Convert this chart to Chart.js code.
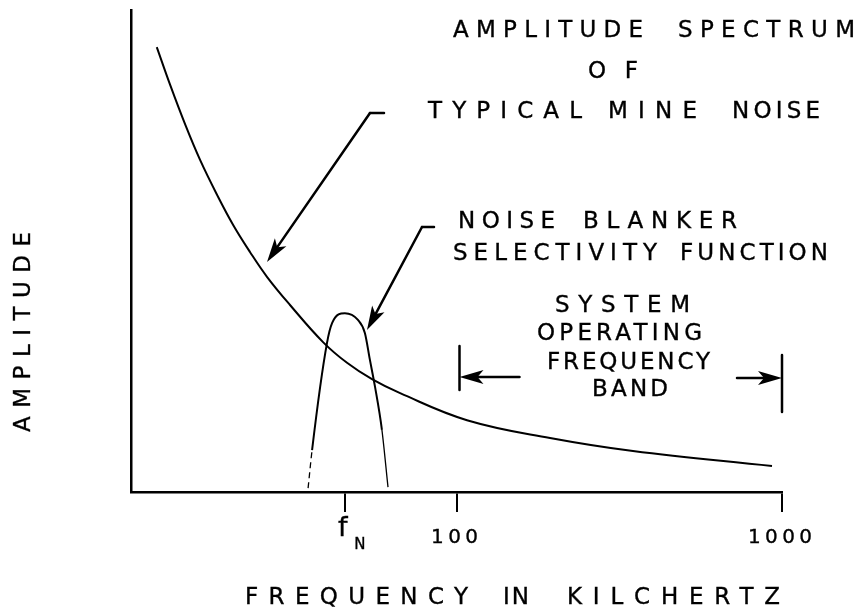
<!DOCTYPE html>
<html>
<head>
<meta charset="utf-8">
<title>Amplitude spectrum of typical mine noise</title>
<script src="https://cdn.jsdelivr.net/npm/chart.js@4.4.1/dist/chart.umd.min.js"></script>
<style>
  html, body { margin: 0; padding: 0; background: #fff; }
  #wrap { width: 861px; height: 613px; }
</style>
</head>
<body>
<div id="wrap"><canvas id="spectrum" width="861" height="613"></canvas></div>
<script>
// ===== values (frequency in kHz, amplitude in % of axis height) =====
const noiseFreq = [12.0, 13.2, 14.7, 16.3, 18.4, 20.6, 23.2, 26.2, 30.8, 38.9, 46.1, 55.0, 67.1, 107.7, 193.8, 348.5, 931.7];
const noiseAmp  = [92.3, 84.4, 76.1, 68.9, 61.6, 55.4, 49.8, 44.6, 38.8, 31.1, 26.8, 23.4, 20.5, 14.9, 11.2, 8.5, 5.4];

const blankerFreq = [35.0, 36.0, 40.0, 41.5, 45.4, 49.8, 52.3, 54.2, 56.2, 59.0, 61.6];
const blankerAmp  = [0.8, 8.7, 30.9, 35.1, 37.1, 35.7, 33.0, 27.4, 21.8, 12.9, 1.0];

const tickFreqs  = [45.4, 100, 1000];
const tickLabels = ['f_N', '100', '1000'];

const FONT = '"DejaVu Sans", sans-serif';

// hand lettered words: text, left, right, middle y
const words = [
  ['AMPLITUDE', 453, 643, 31], ['SPECTRUM', 678, 855, 31],
  ['OF', 588, 638, 72],
  ['TYPICAL', 428, 582, 112], ['MINE', 608, 697, 112], ['NOISE', 732, 820, 112],
  ['NOISE', 458, 555, 222], ['BLANKER', 583, 737, 222],
  ['SELECTIVITY', 453, 657, 254], ['FUNCTION', 680, 828, 254],
  ['SYSTEM', 555, 690, 306],
  ['OPERATING', 537, 702, 334],
  ['FREQUENCY', 547, 710, 363],
  ['BAND', 592, 668, 390],
  ['FREQUENCY', 245, 468, 598], ['IN', 503, 529, 598], ['KILCHERTZ', 567, 780, 598]
];

// draw a word stretched between x0 and x1
function spaced(ctx, text, x0, x1, y) {
  ctx.textAlign = 'left';
  if ('letterSpacing' in ctx) {
    ctx.letterSpacing = '0px';
    const w = ctx.measureText(text).width;
    const gap = text.length > 1 ? (x1 - x0 - w) / (text.length - 1) : 0;
    ctx.letterSpacing = gap + 'px';
    ctx.fillText(text, x0, y);
    ctx.strokeText(text, x0, y);
    ctx.letterSpacing = '0px';
  } else {
    const chars = [...text];
    const ws = chars.map(c => ctx.measureText(c).width);
    const gap = chars.length > 1 ? (x1 - x0 - ws.reduce((a, b) => a + b, 0)) / (chars.length - 1) : 0;
    let x = x0;
    chars.forEach((c, i) => { ctx.fillText(c, x, y); ctx.strokeText(c, x, y); x += ws[i] + gap; });
  }
}

function arrow(ctx, x0, y0, x1, y1, head, half) {
  const a = Math.atan2(y1 - y0, x1 - x0);
  ctx.beginPath();
  ctx.moveTo(x0, y0);
  ctx.lineTo(x1 - Math.cos(a) * head * 0.6, y1 - Math.sin(a) * head * 0.6);
  ctx.stroke();
  const bx = x1 - Math.cos(a) * head, by = y1 - Math.sin(a) * head;
  ctx.beginPath();
  ctx.moveTo(x1, y1);
  ctx.lineTo(bx - Math.sin(a) * half, by + Math.cos(a) * half);
  ctx.lineTo(x1 - Math.cos(a) * head * 0.75, y1 - Math.sin(a) * head * 0.75);
  ctx.lineTo(bx + Math.sin(a) * half, by - Math.cos(a) * half);
  ctx.closePath();
  ctx.fill();
}

const annotate = {
  id: 'annotate',
  beforeDraw(chart) {
    const c = chart.ctx;
    c.save();
    c.fillStyle = '#fff';
    c.fillRect(0, 0, chart.width, chart.height);
    c.restore();
  },
  afterDraw(chart) {
    const ctx = chart.ctx;
    const x = chart.scales.x;
    ctx.save();
    ctx.fillStyle = '#000';
    ctx.strokeStyle = '#000';
    ctx.textBaseline = 'middle';

    // lettering
    ctx.lineWidth = 0.35;
    ctx.font = '23px ' + FONT;
    words.forEach(w => spaced(ctx, w[0], w[1], w[2], w[3]));

    // vertical axis title
    ctx.save();
    ctx.translate(24, 332);
    ctx.rotate(-Math.PI / 2);
    spaced(ctx, 'AMPLITUDE', -100, 100, 0);
    ctx.restore();

    // tick labels
    tickFreqs.forEach((v, i) => {
      const px = x.getPixelForValue(v);
      const parts = tickLabels[i].split('_');
      if (parts.length > 1) {
        ctx.textAlign = 'center';
        ctx.font = '27px ' + FONT;
        ctx.fillText(parts[0], px - 2, 529);
        ctx.strokeText(parts[0], px - 2, 529);
        ctx.font = '15px ' + FONT;
        ctx.fillText(parts[1], px + 15, 545);
        ctx.strokeText(parts[1], px + 15, 545);
      } else {
        ctx.font = '20px ' + FONT;
        spaced(ctx, parts[0], px - parts[0].length * 8.5, px + parts[0].length * 8.5 - 4, 538);
      }
    });

    // leader arrows
    ctx.lineWidth = 2.5;
    ctx.lineCap = 'round';
    ctx.beginPath(); ctx.moveTo(370, 113); ctx.lineTo(384, 113); ctx.stroke();
    arrow(ctx, 370, 113, 267, 262, 24, 7);
    ctx.beginPath(); ctx.moveTo(422, 227); ctx.lineTo(434, 227); ctx.stroke();
    arrow(ctx, 422, 227, 367, 330, 24, 7);

    // operating band markers at 100 and 1000 kHz
    const bl = x.getPixelForValue(100) + 3;
    const br = x.getPixelForValue(1000);
    ctx.lineWidth = 2.5;
    ctx.beginPath(); ctx.moveTo(bl, 346); ctx.lineTo(bl, 390); ctx.stroke();
    ctx.beginPath(); ctx.moveTo(br, 355); ctx.lineTo(br, 412); ctx.stroke();
    arrow(ctx, bl + 60, 377, bl, 377, 24, 7);
    arrow(ctx, br - 45, 378, br, 378, 24, 7);
    ctx.restore();
  }
};

const lastSeg = blankerFreq.length - 2;

new Chart(document.getElementById('spectrum'), {
  type: 'line',
  data: {
    datasets: [{
      label: 'Typical mine noise',
      data: noiseFreq.map((f, i) => ({ x: f, y: noiseAmp[i] })),
      borderColor: '#000',
      borderWidth: 2,
      pointRadius: 0,
      tension: 0.4,
      fill: false
    }, {
      label: 'Noise blanker selectivity function',
      data: blankerFreq.map((f, i) => ({ x: f, y: blankerAmp[i] })),
      borderColor: '#000',
      borderWidth: 2,
      pointRadius: 0,
      cubicInterpolationMode: 'monotone',
      fill: false,
      segment: {
        borderDash: c => c.p0DataIndex === 0 ? [6, 4] : undefined,
        borderWidth: c => (c.p0DataIndex === 0 || c.p0DataIndex === lastSeg) ? 1.3 : undefined
      }
    }]
  },
  options: {
    responsive: false,
    animation: false,
    events: [],
    layout: { padding: { left: 123, top: 10, right: 79, bottom: 101 } },
    plugins: { legend: { display: false }, tooltip: { enabled: false } },
    scales: {
      x: {
        type: 'logarithmic',
        min: 10,
        max: 1000,
        afterBuildTicks: s => { s.ticks = tickFreqs.map(v => ({ value: v })); },
        ticks: { display: false },
        grid: { display: true, drawOnChartArea: false, drawTicks: true, tickLength: 20, color: '#000', lineWidth: 2 },
        border: { display: true, color: '#000', width: 2.5 }
      },
      y: {
        min: 0,
        max: 100,
        ticks: { display: false },
        grid: { display: false },
        border: { display: true, color: '#000', width: 2.5 }
      }
    }
  },
  plugins: [annotate]
});
</script>
</body>
</html>
